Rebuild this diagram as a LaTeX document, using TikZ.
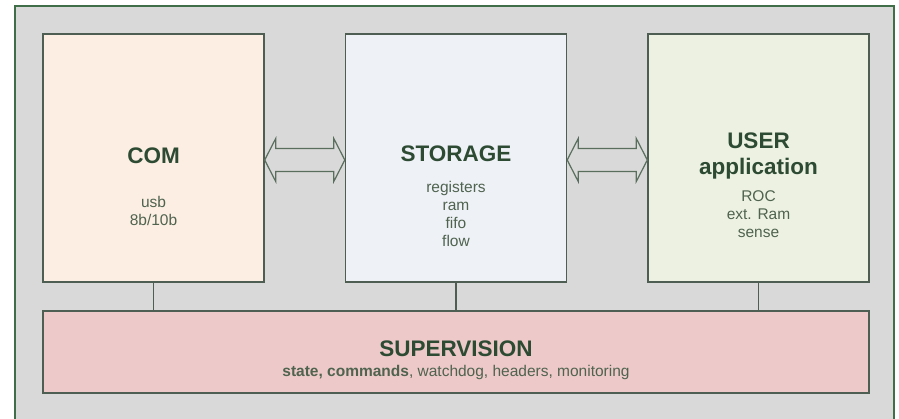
\documentclass[tikz,border=0pt]{standalone}
\usepackage{fontspec}
\setmainfont{Liberation Sans}
\usetikzlibrary{calc}
\definecolor{bggray}{HTML}{D9D9D9}
\definecolor{framegreen}{HTML}{3F6E48}
\definecolor{boxline}{HTML}{4F5E52}
\definecolor{comfill}{HTML}{FCEEE2}
\definecolor{storfill}{HTML}{EEF1F6}
\definecolor{userfill}{HTML}{EDF1E1}
\definecolor{supfill}{HTML}{EDC9C9}
\definecolor{titlecol}{HTML}{2D4A33}
\definecolor{smallcol}{HTML}{4F634F}
\definecolor{arrowline}{HTML}{5A6E5E}
\tikzset{
  blockbox/.style={draw=boxline, line width=1.4pt, inner sep=0pt, minimum width=221pt},
  titletext/.style={anchor=base, text=titlecol, font=\fontsize{22.5}{25}\selectfont\bfseries},
  smalltext/.style={anchor=base, text=smallcol, font=\fontsize{15.5}{18}\selectfont},
  link/.style={draw=boxline, line width=1.4pt},
  dblarrow/.style={draw=arrowline, fill=bggray, line width=1.2pt, line join=miter}
}
\begin{document}
\begin{tikzpicture}[x=1pt,y=-1pt]
\useasboundingbox (0,0) rectangle (899,418);
\clip (0,0) rectangle (899,418);
\fill[white] (0,0) rectangle (899,418);
% outer frame
\draw[fill=bggray, draw=framegreen, line width=1.6pt] (15,6) rectangle (894,440);
% blocks
\node[blockbox, fill=comfill, minimum height=248pt] (com) at (153.5,158) {};
\node[blockbox, fill=storfill, minimum height=248pt] (stor) at (456,158) {};
\node[blockbox, fill=userfill, minimum height=248pt] (user) at (758.5,158) {};
\node[blockbox, fill=supfill, minimum width=826pt, minimum height=82pt] (sup) at (456,352) {};
% vertical links
\draw[link] (com.south) -- (com.south |- sup.north);
\draw[link] (stor.south) -- (stor.south |- sup.north);
\draw[link] (user.south) -- (user.south |- sup.north);
% double arrows
\coordinate (a1) at ($(com.east)+(0,2)$);
\coordinate (b1) at ($(stor.west)+(0,2)$);
\draw[dblarrow] (a1) -- ++(11,-21.5) -- ++(0,10) -- ($(b1)+(-11,-11.5)$) -- ++(0,-10) -- (b1)
  -- ++(-11,21.5) -- ++(0,-10) -- ($(a1)+(11,11.5)$) -- ++(0,10) -- cycle;
\coordinate (a2) at ($(stor.east)+(0,2)$);
\coordinate (b2) at ($(user.west)+(0,2)$);
\draw[dblarrow] (a2) -- ++(11,-21.5) -- ++(0,10) -- ($(b2)+(-11,-11.5)$) -- ++(0,-10) -- (b2)
  -- ++(-11,21.5) -- ++(0,-10) -- ($(a2)+(11,11.5)$) -- ++(0,10) -- cycle;
% texts
\node[titletext] (comt) at (153.5,163) {COM};
\node[smalltext] (com1) at (153.5,207) {usb};
\node[smalltext] (com2) at (153.5,225) {8b/10b};
\node[titletext] (stort) at (456,161) {STORAGE};
\node[smalltext] (stor1) at (456,192) {registers};
\node[smalltext] (stor2) at (456,210) {ram};
\node[smalltext] (stor3) at (456,228) {fifo};
\node[smalltext] (stor4) at (456,246) {flow};
\node[titletext] (usert1) at (758.5,148) {USER};
\node[titletext] (usert2) at (758.5,174) {application};
\node[smalltext] (user1) at (758.5,201) {ROC};
\node[smalltext] (user2) at (758.5,219) {ext. Ram};
\node[smalltext] (user3) at (758.5,237) {sense};
\node[titletext] (supt) at (456,356) {SUPERVISION};
\node[smalltext] (sup1) at (456,376) {\textbf{state, commands}, watchdog, headers, monitoring};
\end{tikzpicture}
\end{document}
